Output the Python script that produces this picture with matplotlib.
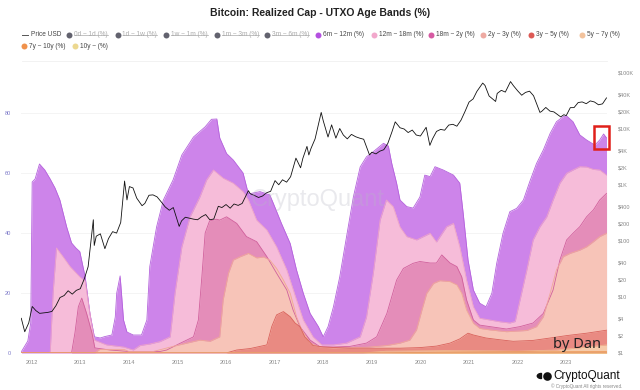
import numpy as np
import pandas as pd
import matplotlib
matplotlib.use('Agg')
import matplotlib.pyplot as plt
from matplotlib.lines import Line2D
from matplotlib.patches import Rectangle, Wedge

plt.rcParams['font.family'] = ['Liberation Sans', 'DejaVu Sans']

# price line (USD, log axis on the right)
price_dates = ['2011-10-15', '2011-11-10', '2011-12-10', '2012-01-05', '2012-02-01', '2012-03-01',
               '2012-04-01', '2012-05-01', '2012-06-01', '2012-07-01', '2012-08-01', '2012-09-01',
               '2012-10-01', '2012-11-01', '2012-12-01', '2013-01-01', '2013-02-01', '2013-03-01',
               '2013-04-09', '2013-04-16', '2013-05-01', '2013-06-01', '2013-07-05', '2013-08-01',
               '2013-09-01', '2013-10-01', '2013-11-01', '2013-11-30', '2013-12-18', '2014-01-05',
               '2014-02-01', '2014-03-01', '2014-04-10', '2014-05-01', '2014-06-01', '2014-07-01',
               '2014-08-01', '2014-09-01', '2014-10-01', '2014-11-01', '2014-12-01', '2015-01-14',
               '2015-02-01', '2015-03-01', '2015-04-01', '2015-05-01', '2015-06-01', '2015-07-01',
               '2015-08-01', '2015-09-01', '2015-10-01', '2015-11-04', '2015-12-01', '2016-01-01',
               '2016-02-01', '2016-03-01', '2016-04-01', '2016-05-01', '2016-06-17', '2016-07-01',
               '2016-08-01', '2016-09-01', '2016-10-01', '2016-11-01', '2016-12-01', '2017-01-04',
               '2017-02-01', '2017-03-01', '2017-04-01', '2017-05-01', '2017-06-10', '2017-07-15',
               '2017-08-01', '2017-09-01', '2017-09-15', '2017-10-01', '2017-11-01', '2017-12-17',
               '2018-01-01', '2018-02-06', '2018-03-05', '2018-04-06', '2018-05-05', '2018-06-01',
               '2018-07-01', '2018-08-01', '2018-09-01', '2018-10-01', '2018-11-01', '2018-12-15',
               '2019-01-01', '2019-02-01', '2019-03-01', '2019-04-01', '2019-05-01', '2019-06-01',
               '2019-06-26', '2019-08-01', '2019-09-01', '2019-10-01', '2019-11-01', '2019-12-01',
               '2020-01-01', '2020-02-13', '2020-03-12', '2020-04-01', '2020-05-01', '2020-06-01',
               '2020-07-01', '2020-08-01', '2020-09-01', '2020-10-01', '2020-11-01', '2020-12-01',
               '2021-01-01', '2021-02-01', '2021-03-01', '2021-04-14', '2021-05-01', '2021-06-01',
               '2021-07-20', '2021-08-01', '2021-09-01', '2021-10-01', '2021-11-09', '2021-12-01',
               '2022-01-01', '2022-02-01', '2022-03-01', '2022-04-01', '2022-05-01', '2022-06-18',
               '2022-07-01', '2022-08-01', '2022-09-01', '2022-10-01', '2022-11-21', '2022-12-15',
               '2023-01-01', '2023-02-01', '2023-03-01', '2023-04-01', '2023-05-01', '2023-06-01',
               '2023-07-01', '2023-08-01', '2023-09-01', '2023-10-01', '2023-10-31']
price_usd = [4.0, 2.3, 3.3, 6.5, 5.5, 4.9,
             5.0, 5.1, 5.3, 6.7, 9.4, 10.2,
             12.4, 10.8, 12.6, 13.5, 20.5, 33.4,
             230, 80, 117, 129, 70, 106,
             141, 133, 206, 1130, 520, 900,
             850, 560, 410, 450, 630, 640,
             590, 480, 390, 340, 380, 175,
             220, 255, 245, 236, 230, 260,
             285, 230, 237, 400, 380, 430,
             370, 440, 415, 450, 760, 670,
             625, 575, 610, 700, 740, 1150,
             970, 1190, 1080, 1350, 2900, 1950,
             2870, 4700, 3300, 4300, 6400, 19000,
             13500, 6900, 11400, 6600, 9800, 7500,
             6400, 7700, 7000, 6600, 6300, 3300,
             3700, 3450, 3850, 4100, 5300, 8500,
             12900, 10100, 9600, 8300, 9200, 7500,
             7200, 10300, 4900, 6400, 8700, 9450,
             9140, 11300, 11650, 10780, 13800, 19700,
             29000, 33100, 45000, 63500, 57700, 37300,
             29800, 41500, 47100, 43800, 67500, 57000,
             46300, 38500, 43200, 45500, 37700, 19000,
             19800, 23300, 20050, 19400, 15800, 17300,
             16600, 23100, 23150, 28500, 29250, 27200,
             30500, 29200, 26000, 27000, 34500]

# cumulative level (top edge) of each visible band, %
years_6m_12m = [2011.79, 2011.92, 2011.98, 2012.01, 2012.07, 2012.16, 2012.27, 2012.38, 2012.48,
                2012.58, 2012.72, 2012.82, 2012.91, 2012.99, 2013.10, 2013.20, 2013.29, 2013.41,
                2013.51, 2013.65, 2013.72, 2013.75, 2013.82, 2013.89, 2013.96, 2014.09, 2014.26,
                2014.37, 2014.43, 2014.57, 2014.71, 2014.91, 2015.09, 2015.33, 2015.57, 2015.70,
                2015.81, 2015.87, 2016.01, 2016.15, 2016.35, 2016.46, 2016.70, 2016.90, 2016.97,
                2017.14, 2017.32, 2017.45, 2017.59, 2017.73, 2017.90, 2018.00, 2018.10, 2018.21,
                2018.34, 2018.48, 2018.62, 2018.76, 2018.89, 2019.03, 2019.24, 2019.34, 2019.41,
                2019.51, 2019.58, 2019.72, 2019.85, 2019.99, 2020.09, 2020.20, 2020.30, 2020.47,
                2020.68, 2020.81, 2020.88, 2020.98, 2021.09, 2021.22, 2021.35, 2021.47, 2021.57,
                2021.70, 2021.84, 2021.98, 2022.12, 2022.25, 2022.39, 2022.53, 2022.67, 2022.80,
                2022.94, 2023.01, 2023.14, 2023.28, 2023.42, 2023.59, 2023.69, 2023.77, 2023.83]
level_6m_12m = [0.5, 4, 10, 57, 58, 63, 61, 58, 55,
                51, 42, 36.7, 35, 33.8, 25.4, 13, 5.4, 5,
                5.5, 6, 12, 20, 25.7, 11, 7, 6, 6,
                11, 28.8, 42, 51, 57.7, 66, 72, 75.4, 77.9,
                78, 71.7, 66.5, 64.3, 60, 53, 53.8, 52.7, 50,
                43.2, 36.5, 27.7, 19.9, 13.2, 8.8, 5.4, 8.8, 15.4,
                25.4, 38.8, 52, 62, 65.4, 67.1, 69.9, 69, 63.2,
                56.6, 51, 48.8, 48.3, 52, 59.3, 58.8, 62.1, 61,
                59.3, 56.6, 46.6, 31, 21, 16.6, 15.4, 19.9, 29.9,
                39.9, 47.1, 48.2, 51, 57.1, 63.2, 67.7, 73.2, 77.1,
                78.8, 79, 77.1, 72.7, 71, 69.3, 71, 73, 71.7]

years_12m_18m = [2011.79, 2012.38, 2012.44, 2012.51, 2012.65, 2012.79, 2012.99, 2013.10, 2013.20,
                 2013.29, 2013.54, 2013.89, 2014.09, 2014.23, 2014.43, 2014.64, 2014.85, 2014.95,
                 2015.09, 2015.26, 2015.46, 2015.60, 2015.74, 2015.94, 2016.15, 2016.35, 2016.46,
                 2016.63, 2016.84, 2017.04, 2017.25, 2017.45, 2017.59, 2017.79, 2017.97, 2018.21,
                 2018.48, 2018.76, 2018.89, 2019.03, 2019.17, 2019.30, 2019.44, 2019.58, 2019.72,
                 2019.92, 2020.20, 2020.33, 2020.54, 2020.68, 2020.81, 2020.95, 2021.09, 2021.22,
                 2021.43, 2021.64, 2021.84, 2021.95, 2022.05, 2022.19, 2022.32, 2022.46, 2022.60,
                 2022.73, 2022.87, 2023.01, 2023.14, 2023.28, 2023.42, 2023.56, 2023.69, 2023.83]
level_12m_18m = [0, 0, 20, 35, 32, 28.8, 25.4, 24, 13,
                 4.3, 2.7, 2, 1, 2.5, 3, 3.8, 5.4, 20,
                 35.4, 45.4, 52, 57.7, 61, 58.3, 56.6, 53.8, 51,
                 44.3, 41, 35.4, 27.7, 17.7, 11, 5.4, 2.7, 2.7,
                 3.3, 5.4, 12, 26.6, 44.3, 51, 48.8, 42, 38.8,
                 37.7, 39.9, 37, 42.1, 43.2, 35.4, 24.3, 15.4, 11.6,
                 11, 10.4, 10, 10.5, 17.7, 27.7, 37.7, 42.1, 45.4,
                 51, 56.6, 59.9, 61, 62.1, 62, 61.2, 61, 59.3]

years_18m_2y = [2011.79, 2012.82, 2012.89, 2012.96, 2013.03, 2013.13, 2013.24, 2013.30, 2013.61,
                2014.00, 2014.64, 2014.78, 2015.05, 2015.33, 2015.43, 2015.50, 2015.57, 2015.66,
                2015.80, 2015.87, 2016.01, 2016.22, 2016.42, 2016.63, 2016.84, 2017.04, 2017.25,
                2017.38, 2017.52, 2017.73, 2017.93, 2018.21, 2018.55, 2018.89, 2019.10, 2019.31,
                2019.51, 2019.65, 2019.85, 2019.99, 2020.20, 2020.33, 2020.44, 2020.61, 2020.75,
                2020.85, 2020.95, 2021.09, 2021.22, 2021.43, 2021.77, 2022.05, 2022.32, 2022.53,
                2022.73, 2022.87, 2023.01, 2023.14, 2023.28, 2023.42, 2023.56, 2023.69, 2023.83]
level_18m_2y = [0, 0, 6.7, 15.4, 18.3, 13.2, 6.7, 1.7, 1,
                0.5, 0.5, 1, 3.2, 5.4, 11, 25, 40, 44,
                44.6, 44.3, 45.4, 43.2, 38.8, 37.1, 32.1, 26.6, 21,
                14.3, 8.8, 4.3, 2.1, 2, 2.2, 3.3, 5.4, 13.2,
                24.3, 28.2, 29.9, 30.5, 30, 30, 32.7, 30, 28.8,
                25.4, 17.7, 11, 9.3, 8.8, 8, 8.8, 10, 13.2,
                21, 31, 37.7, 39.9, 42.1, 45.4, 47.7, 51, 53.2]

years_2y_3y = [2011.79, 2013.30, 2013.40, 2013.90, 2014.00, 2014.50, 2014.98, 2015.46, 2015.67,
               2015.87, 2015.94, 2016.05, 2016.15, 2016.29, 2016.46, 2016.63, 2016.77, 2016.90,
               2017.04, 2017.18, 2017.32, 2017.45, 2017.56, 2017.73, 2017.93, 2018.21, 2018.89,
               2019.31, 2019.58, 2019.78, 2019.92, 2020.03, 2020.13, 2020.27, 2020.40, 2020.61,
               2020.75, 2020.85, 2020.95, 2021.09, 2021.22, 2021.43, 2021.77, 2022.19, 2022.39,
               2022.53, 2022.67, 2022.80, 2022.94, 2023.08, 2023.28, 2023.42, 2023.56, 2023.69,
               2023.83]
level_2y_3y = [0, 0, 1.2, 1.2, 0.5, 0.5, 2.5, 4.3, 3.9,
               5.4, 17.7, 26.6, 31, 32.1, 33.2, 31.7, 32, 31,
               28.2, 24.3, 19.9, 12.1, 7.7, 3.3, 2, 1.6, 1.9,
               2.5, 3.3, 4.3, 7.7, 14.3, 19.9, 23.2, 24.1, 23.8,
               22.7, 19.9, 14.3, 9.9, 8.2, 7.7, 7.1, 7.5, 8.8,
               12.1, 19.9, 27.7, 32.1, 33.2, 34.3, 35.4, 37.1, 38.8,
               39.9]

years_3y_5y = [2011.79, 2016.00, 2016.22, 2016.50, 2016.84, 2016.94, 2017.04, 2017.18, 2017.32,
               2017.42, 2017.52, 2017.62, 2017.79, 2018.00, 2018.55, 2019.58, 2019.99, 2020.33,
               2020.61, 2020.81, 2020.98, 2021.09, 2021.35, 2021.64, 2021.91, 2022.32, 2022.67,
               2023.01, 2023.42, 2023.83]
level_3y_5y = [0, 0, 1, 1.5, 2.7, 8.8, 12.7, 13.8, 12.1,
               10, 8.8, 5.4, 2.5, 2, 1.6, 1.6, 1.8, 2.3,
               3.3, 4.7, 6.6, 6, 5, 4.4, 3.9, 4.2, 5,
               5.8, 6.6, 7.6]

years_5y_7y = [2011.79, 2018.80, 2019.30, 2020.50, 2021.50, 2022.00, 2022.80, 2023.30, 2023.83]
level_5y_7y = [0, 0, 0.6, 0.8, 0.7, 0.6, 1.0, 1.8, 2.7]

years_7y_10y = [2011.79, 2019.00, 2020.50, 2022.00, 2023.83]
level_7y_10y = [0, 0, 0.3, 0.35, 0.4]

years_10y = [2011.79, 2021.00, 2023.83]
level_10y = [0, 0.1, 0.15]

year_ticks = list(range(2012, 2024))
pct_ticks = [0, 20, 40, 60, 80]
usd_ticks = [1, 2, 4, 10, 20, 40, 100, 200, 400, 1e3, 2e3, 4e3, 1e4, 2e4, 4e4, 1e5]
usd_labels = ['$1', '$2', '$4', '$10', '$20', '$40', '$100', '$200', '$400',
              '$1K', '$2K', '$4K', '$10K', '$20K', '$40K', '$100K']

# band styles, top of the stack first (painted first, lower bands cover it)
bands = [
    ('6m ~ 12m (%)', years_6m_12m, level_6m_12m, '#cd84ea', '#b463dc'),
    ('12m ~ 18m (%)', years_12m_18m, level_12m_18m, '#f6bcd9', '#eda2c8'),
    ('18m ~ 2y (%)', years_18m_2y, level_18m_2y, '#e48db9', '#d0609c'),
    ('2y ~ 3y (%)', years_2y_3y, level_2y_3y, '#f7c4b8', '#f0a898'),
    ('3y ~ 5y (%)', years_3y_5y, level_3y_5y, '#e98a82', '#d9625c'),
    ('5y ~ 7y (%)', years_5y_7y, level_5y_7y, '#f6cbaa', '#f0b890'),
    ('7y ~ 10y (%)', years_7y_10y, level_7y_10y, '#f0a060', '#e88a40'),
    ('10y ~ (%)', years_10y, level_10y, '#efd992', '#e8a070'),
]

W, H = 640, 390
fig = plt.figure(figsize=(W / 100, H / 100), dpi=100)
ax = fig.add_axes([21 / W, 1 - 353 / H, (607 - 21) / W, (353 - 68) / H])

for name, xs, ys, fc, ec in bands:
    ax.fill_between(xs, 0, ys, color=fc, lw=0)
    ax.plot(xs, ys, color=ec, lw=0.6)

ax.set_xlim(2011.78, 2023.84)
ax.set_ylim(0, 95)
ax.set_yticks(pct_ticks)
ax.set_yticklabels([str(v) for v in pct_ticks])
ax.set_xticks(year_ticks)
ax.set_xticklabels([str(y) for y in year_ticks])
ax.tick_params(axis='y', length=0, labelsize=4, labelcolor='#7b78c8', pad=7)
ax.tick_params(axis='x', length=0, labelsize=4, labelcolor='#888888', pad=5)
ax.grid(axis='y', color='#f2f2f2', lw=0.6)
ax.set_axisbelow(True)
for s in ax.spines.values():
    s.set_visible(False)

ax2 = ax.twinx()
pt = pd.to_datetime(price_dates)
price_t = pt.year + (pt.dayofyear - 1) / 365.25
ax2.plot(price_t, price_usd, color='#111111', lw=0.6)
ax2.set_yscale('log')
ax2.set_ylim(0.96, 118000)
ax2.set_yticks(usd_ticks)
ax2.set_yticklabels(usd_labels)
ax2.minorticks_off()
ax2.tick_params(axis='y', length=0, labelsize=4, labelcolor='#888888', pad=8)
for s in ax2.spines.values():
    s.set_visible(False)

# highlight box at the latest reading
ax.add_patch(Rectangle((2023.58, 68), 0.30, 7.7, fill=False, edgecolor='#e0201a',
                       lw=1.8, clip_on=False, zorder=10))

# title and legend
fig.text(0.5, 1 - 13 / H, 'Bitcoin: Realized Cap - UTXO Age Bands (%)',
         ha='center', va='center', fontsize=7.5, fontweight='bold', color='#222222')

row1_y, row2_y = 35, 46
fig.add_artist(Line2D([22 / W, 28 / W], [1 - row1_y / H] * 2, color='#555555', lw=0.7))
fig.text(31 / W, 1 - row1_y / H, 'Price USD', fontsize=4.7, va='center', color='#444444')

hidden = ['0d ~ 1d (%)', '1d ~ 1w (%)', '1w ~ 1m (%)', '1m ~ 3m (%)', '3m ~ 6m (%)']
legend_row1 = [69, 117.5, 166, 217, 267, 318, 374, 431, 483, 531, 582]
legend_row2 = [24, 75]
dot_colors = ['#b450e0', '#f2a8cc', '#d65aa2', '#eeaaa2', '#dd5a55', '#f2c29c', '#f0924c', '#ecd890']
entries = [(n, '#62626e', True) for n in hidden] + \
          [(b[0], c, False) for b, c in zip(bands, dot_colors)]
positions = [(x, row1_y) for x in legend_row1] + [(x, row2_y) for x in legend_row2]

struck = []
for (label, col, off), (px, py) in zip(entries, positions):
    fig.add_artist(Line2D([px / W], [1 - py / H], marker='o', markersize=4.3,
                          markerfacecolor=col, markeredgewidth=0, linestyle='none'))
    t = fig.text((px + 5) / W, 1 - py / H, label, fontsize=4.7, va='center',
                 color='#aaaaaa' if off else '#444444')
    if off:
        struck.append(t)

fig.add_artist(Line2D([22 / W, 607 / W], [1 - 61 / H] * 2, color='#f0f0f0', lw=0.6))

# watermark and signatures
fig.text(318 / W, 1 - 200 / H, 'CryptoQuant', fontsize=17, ha='center', va='center',
         color='#b8b8c4', alpha=0.3)
fig.text(553 / W, 1 - 345 / H, 'by Dan', fontsize=10.5, va='center', color='#222222',
         family=['Noto Sans', 'DejaVu Sans'])
fig.add_artist(Wedge((541.5 / W, 1 - 376 / H), 4.2 / W, 90, 270, transform=fig.transFigure,
                     color='#111111'))
fig.add_artist(Line2D([547 / W], [1 - 376 / H], marker='o', markersize=6.2,
                      markerfacecolor='#111111', markeredgewidth=0, linestyle='none'))
fig.text(553 / W, 1 - 376 / H, 'CryptoQuant', fontsize=8.5, va='center', color='#111111')
fig.text(622 / W, 1 - 386 / H, '© CryptoQuant All rights reserved.', fontsize=3.3,
         ha='right', va='center', color='#888888')

# strike through the hidden legend entries
fig.canvas.draw()
r = fig.canvas.get_renderer()
inv = fig.transFigure.inverted()
for t in struck:
    bb = t.get_window_extent(r)
    (x0, y0), (x1, y1) = inv.transform([[bb.x0, bb.y0], [bb.x1, bb.y1]])
    ym = (y0 + y1) / 2
    fig.add_artist(Line2D([x0, x1], [ym, ym], color='#aaaaaa', lw=0.5))

fig.savefig('out.png', dpi=100)
